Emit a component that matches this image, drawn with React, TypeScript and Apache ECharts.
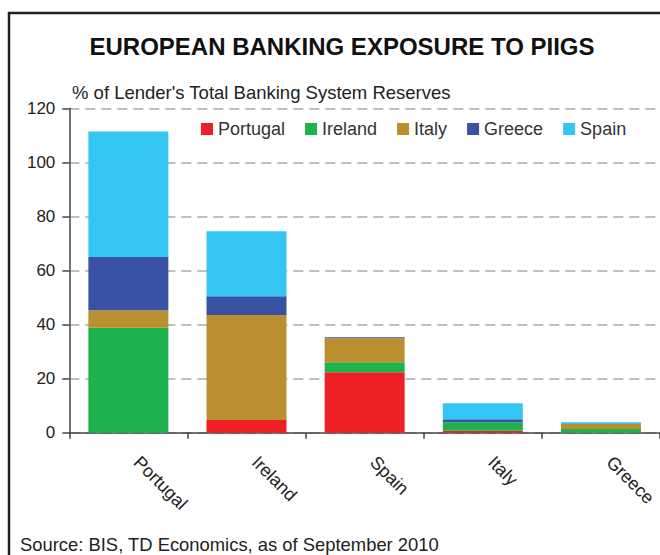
import React, { useEffect, useRef } from "react";
import * as echarts from "echarts";

const categories = ["Portugal", "Ireland", "Spain", "Italy", "Greece"];
const seriesNames = ["Portugal", "Ireland", "Italy", "Greece", "Spain"];
const portugal = [0, 4.7, 22.4, 0.7, 0];
const ireland = [38.8, 0, 3.7, 3.2, 1.4];
const italy = [6.5, 38.8, 8.8, 0, 1.8];
const greece = [19.7, 7.0, 0.4, 1.1, 0];
const spain = [46.4, 24.0, 0, 5.9, 0.7];
const colors = ["#EE2024", "#1DB24B", "#B98F2F", "#3952A4", "#35C5F3"];
const yTicks = [0, 20, 40, 60, 80, 100, 120];

const title = "EUROPEAN BANKING EXPOSURE TO PIIGS";
const subtitle = "% of Lender's Total Banking System Reserves";
const source = "Source: BIS, TD Economics, as of September 2010";

export default function App() {
  const ref = useRef<HTMLDivElement>(null);
  useEffect(() => {
    const chart = echarts.init(ref.current!, null, { renderer: "svg" });
    const values = [portugal, ireland, italy, greece, spain];
    const font = "Liberation Sans, Arial, sans-serif";
    chart.setOption({
      animation: false,
      backgroundColor: "#fff",
      color: colors,
      textStyle: { fontFamily: font },
      graphic: [
        { type: "line", shape: { x1: 9, y1: 12, x2: 9, y2: 560 }, style: { stroke: "#231f20", lineWidth: 2.5 } },
        { type: "line", shape: { x1: 8, y1: 13, x2: 665, y2: 13 }, style: { stroke: "#231f20", lineWidth: 2.5 } },
        { type: "text", x: 342, y: 46, style: { text: title, font: "bold 24px Liberation Sans, Arial, sans-serif", fill: "#111", align: "center", verticalAlign: "middle" } },
        { type: "text", x: 72, y: 92, style: { text: subtitle, font: "18.5px Liberation Sans, Arial, sans-serif", fill: "#222", align: "left", verticalAlign: "middle" } },
        { type: "text", x: 20, y: 544, style: { text: source, font: "18.4px Liberation Sans, Arial, sans-serif", fill: "#222", align: "left", verticalAlign: "middle" } },
      ],
      legend: {
        data: seriesNames,
        left: 196,
        top: 115,
        itemWidth: 12,
        itemHeight: 12,
        itemGap: 20,
        icon: "rect",
        textStyle: { fontSize: 18, color: "#333", fontFamily: font },
      },
      grid: { left: 69.3, top: 108.3, bottom: 122.3, width: 593.5, containLabel: false },
      xAxis: {
        type: "category",
        data: categories,
        axisLine: { lineStyle: { color: "#444", width: 1.5 } },
        axisTick: { show: true, length: 6, lineStyle: { color: "#444", width: 1.5 } },
        axisLabel: { rotate: -45, margin: 18, padding: [0, 0, 0, 12], fontSize: 18, color: "#222", fontFamily: font },
      },
      yAxis: {
        type: "value",
        min: 0,
        max: 120,
        interval: 20,
        axisLine: { show: true, lineStyle: { color: "#444", width: 1.5 } },
        axisTick: { show: true, length: 7, lineStyle: { color: "#444", width: 1.5 } },
        axisLabel: {
          fontSize: 17,
          color: "#222",
          margin: 14,
          fontFamily: font,
          formatter: (v: number) => (yTicks.includes(v) ? String(v) : ""),
        },
        splitLine: { show: true, lineStyle: { color: "#aaa", type: [10, 6], width: 1.5 } },
      },
      series: seriesNames.map((name, i) => ({
        name,
        type: "bar",
        stack: "total",
        barWidth: 80,
        data: values[i],
        itemStyle: { color: colors[i] },
      })),
    });
    return () => chart.dispose();
  }, []);
  return <div ref={ref} style={{ width: 660, height: 555, position: "absolute", left: 0, top: 0 }} />;
}
